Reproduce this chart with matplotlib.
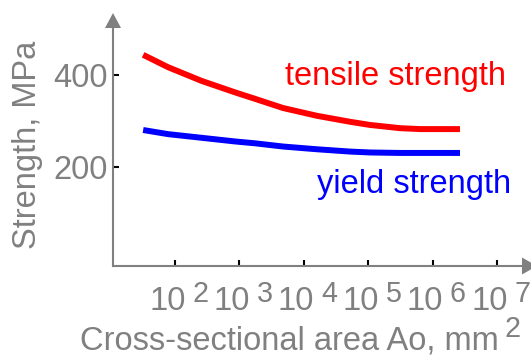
import numpy as np
import matplotlib
matplotlib.use("Agg")
import matplotlib.pyplot as plt
from matplotlib import transforms

plt.rcParams['font.family'] = ['Liberation Sans', 'DejaVu Sans']

# cross-sectional area (mm^2) and strength (MPa)
area = [32, 78, 260, 860, 1750, 4750, 16000, 52000, 107000, 312000, 640000, 2660000]
tensile = [444, 417, 387, 362, 348, 328, 311, 298, 291, 284, 282, 282]
yield_ = [280, 271, 263, 255, 251, 244, 238, 233, 231, 230, 230, 230]

xtick_pow = [2, 3, 4, 5, 6, 7]
yticks = [200, 400]

gray = '#808080'
fs = 23.5

fig = plt.figure(figsize=(5.31, 3.58), dpi=100)
ax = fig.add_axes([113 / 531, 92 / 358, 409 / 531, 238 / 358])

ax.plot(area, tensile, color='#ff0000', lw=4.3, solid_capstyle='butt')
ax.plot(area, yield_, color='#0000ff', lw=4.3, solid_capstyle='butt')

ax.set_xscale('log')
ax.set_xlim(10 ** 1.037, 10 ** 7.388)
ax.set_ylim(-16.6, 502.5)

for s in ['top', 'right']:
    ax.spines[s].set_visible(False)
for s in ['left', 'bottom']:
    ax.spines[s].set_color(gray)
    ax.spines[s].set_linewidth(1.5)

ax.minorticks_off()
ax.set_xticks([10.0 ** p for p in xtick_pow])
ax.set_xticklabels([])
ax.set_yticks(yticks)
ax.set_yticklabels([str(v) for v in yticks], fontsize=fs, color=gray)
ax.tick_params(direction='in', length=4.5, width=1.5, color='black', pad=4)

# arrow heads on the axes
ax.fill([0, -0.0196, 0.0196], [1.063, 1.0, 1.0], color=gray,
        transform=ax.transAxes, clip_on=False, lw=0)
ax.fill([1.0367, 1.0, 1.0], [0, 0.0357, -0.0357], color=gray,
        transform=ax.transAxes, clip_on=False, lw=0)

# power-of-ten tick labels with large exponents
base = transforms.blended_transform_factory(ax.transData, ax.transAxes)
for p in xtick_pow:
    x = 10.0 ** p
    t1 = transforms.offset_copy(base, fig=fig, x=7.5, y=0, units='points')
    t2 = transforms.offset_copy(base, fig=fig, x=12.5, y=0, units='points')
    ax.text(x, -0.185, '10', transform=t1, ha='right', va='baseline',
            fontsize=fs, color=gray, clip_on=False)
    ax.text(x, -0.151, str(p), transform=t2, ha='left', va='baseline',
            fontsize=fs * 0.88, color=gray, clip_on=False)

fig.text(28 / 531, 1 - 145 / 358, 'Strength, MPa', rotation=90,
         ha='center', va='center', fontsize=fs, color=gray)
xl = fig.text(80 / 531, 8 / 358, 'Cross-sectional area Ao, mm', ha='left',
              va='baseline', fontsize=fs, color=gray)

fig.text(285 / 531, 1 - 85 / 358, 'tensile strength', ha='left',
         va='baseline', fontsize=fs, color='#ff0000')
fig.text(317 / 531, 1 - 193 / 358, 'yield strength', ha='left',
         va='baseline', fontsize=fs, color='#0000ff')

# squared unit placed just after the axis label
fig.canvas.draw()
bb = xl.get_window_extent(fig.canvas.get_renderer())
fig.text((bb.x1 + 6) / 531, 21 / 358, '2', ha='left', va='baseline',
         fontsize=fs * 0.88, color=gray)

fig.savefig('out.png', dpi=100)
